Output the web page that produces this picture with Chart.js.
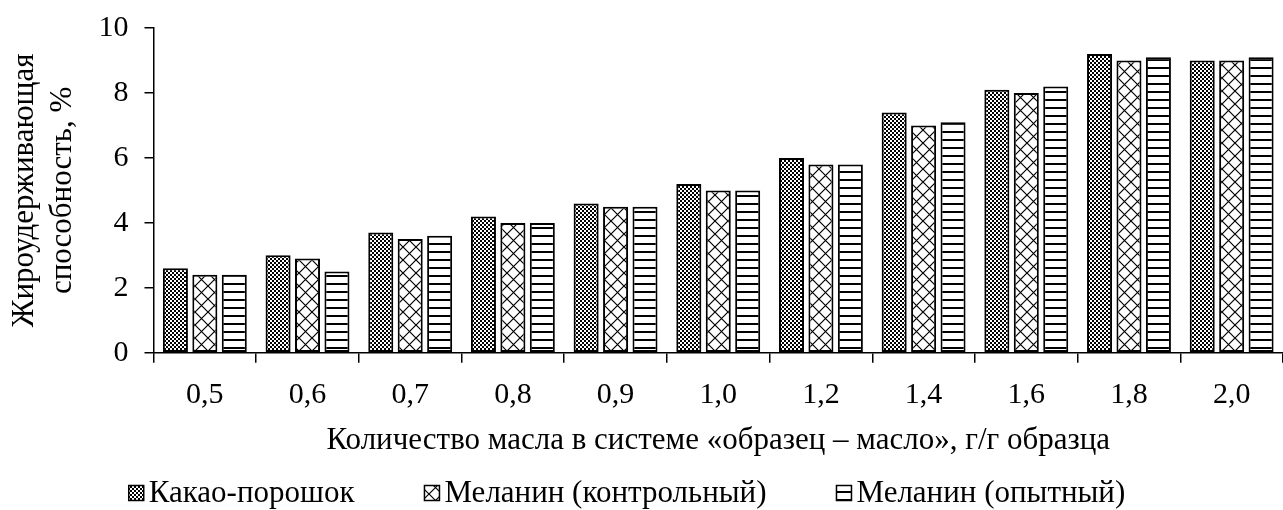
<!DOCTYPE html>
<html>
<head>
<meta charset="utf-8">
<script src="https://cdn.jsdelivr.net/npm/chart.js@4.4.1/dist/chart.umd.min.js"></script>
<style>
  html, body { margin: 0; padding: 0; background: #fff; }
  #wrap { width: 1283px; height: 510px; position: relative; }
</style>
</head>
<body>
<div id="wrap"><canvas id="chart"></canvas></div>
<script>
const categories = ['0,5', '0,6', '0,7', '0,8', '0,9', '1,0', '1,2', '1,4', '1,6', '1,8', '2,0'];
const cocoa = [2.6, 3.0, 3.7, 4.2, 4.6, 5.2, 6.0, 7.4, 8.1, 9.2, 9.0];
const melaninControl = [2.4, 2.9, 3.5, 4.0, 4.5, 5.0, 5.8, 7.0, 8.0, 9.0, 9.0];
const melaninTest = [2.4, 2.5, 3.6, 4.0, 4.5, 5.0, 5.8, 7.1, 8.2, 9.1, 9.1];
const seriesNames = ['Какао-порошок', 'Меланин (контрольный)', 'Меланин (опытный)'];

const FONT = "'Liberation Serif', 'Times New Roman', serif";

// small tiles used as fill patterns
function makePattern(size, draw) {
  const c = document.createElement('canvas');
  c.width = size[0];
  c.height = size[1];
  const ctx = c.getContext('2d');
  ctx.fillStyle = '#fff';
  ctx.fillRect(0, 0, c.width, c.height);
  draw(ctx);
  return ctx.createPattern(c, 'repeat');
}

const checker = makePattern([4, 4], ctx => {
  ctx.fillStyle = '#000';
  ctx.fillRect(0, 0, 2, 2);
  ctx.fillRect(2, 2, 2, 2);
});

const lattice = makePattern([13, 13], ctx => {
  ctx.strokeStyle = '#000';
  ctx.lineWidth = 1.2;
  ctx.beginPath();
  ctx.moveTo(0, 0); ctx.lineTo(13, 13);
  ctx.moveTo(13, 0); ctx.lineTo(0, 13);
  ctx.moveTo(-1, 12); ctx.lineTo(1, 14);
  ctx.moveTo(12, -1); ctx.lineTo(14, 1);
  ctx.stroke();
});

const hlines = makePattern([8, 8], ctx => {
  ctx.fillStyle = '#000';
  ctx.fillRect(0, 3, 8, 2);
});

// legend drawn in one row under the axis title, wide gaps like the original
const bottomLegend = {
  id: 'bottomLegend',
  afterDraw(chart) {
    const ctx = chart.ctx;
    const box = 15, gapText = 5, gapItem = 70;
    ctx.save();
    ctx.font = '31px ' + FONT;
    const items = chart.data.datasets.map(ds => ({
      text: ds.label, fill: ds.backgroundColor, w: ctx.measureText(ds.label).width,
    }));
    const total = items.reduce((s, it) => s + box + gapText + it.w, 0) + gapItem * (items.length - 1);
    let x = 627 - total / 2;
    const y = chart.height - 17;
    ctx.textBaseline = 'middle';
    items.forEach(it => {
      ctx.fillStyle = it.fill;
      ctx.fillRect(x, y - box / 2, box, box);
      ctx.strokeStyle = '#000';
      ctx.lineWidth = 1.5;
      ctx.strokeRect(x, y - box / 2, box, box);
      ctx.fillStyle = '#000';
      ctx.fillText(it.text, x + box + gapText, y + 1);
      x += box + gapText + it.w + gapItem;
    });
    ctx.restore();
  },
};

const barStyle = {
  borderColor: '#000',
  borderWidth: 2,
  borderSkipped: false,
  categoryPercentage: 0.86,
  barPercentage: 0.85,
};

new Chart(document.getElementById('chart'), {
  type: 'bar',
  data: {
    labels: categories,
    datasets: [
      { label: seriesNames[0], data: cocoa, backgroundColor: checker, ...barStyle },
      { label: seriesNames[1], data: melaninControl, backgroundColor: lattice, ...barStyle },
      { label: seriesNames[2], data: melaninTest, backgroundColor: hlines, ...barStyle },
    ],
  },
  plugins: [bottomLegend],
  options: {
    responsive: true,
    maintainAspectRatio: false,
    animation: false,
    layout: { padding: { top: 10, right: 0, left: 4, bottom: 51 } },
    plugins: {
      tooltip: { enabled: false },
      legend: { display: false },
    },
    scales: {
      x: {
        grid: {
          offset: true,
          drawOnChartArea: false,
          color: '#000',
          tickLength: 10,
          lineWidth: 1.5,
        },
        border: { display: true, color: '#000', width: 1.5 },
        ticks: { color: '#000', font: { family: FONT, size: 30 }, padding: 14 },
        title: {
          display: true,
          text: 'Количество масла в системе «образец – масло», г/г образца',
          color: '#000',
          font: { family: FONT, size: 31 },
          padding: { top: -5, bottom: 0 },
        },
      },
      y: {
        min: 0,
        max: 10,
        ticks: { stepSize: 2, color: '#000', font: { family: FONT, size: 30, lineHeight: 0.8 }, padding: 16 },
        grid: {
          drawOnChartArea: false,
          color: '#000',
          tickLength: 9,
          lineWidth: 1.5,
        },
        border: { display: true, color: '#000', width: 1.5 },
        title: {
          display: true,
          text: ['Жироудерживающая', 'способность, %'],
          color: '#000',
          font: { family: FONT, size: 31, lineHeight: 1.25 },
          padding: { top: 1, bottom: 0 },
        },
      },
    },
  },
});
</script>
</body>
</html>
